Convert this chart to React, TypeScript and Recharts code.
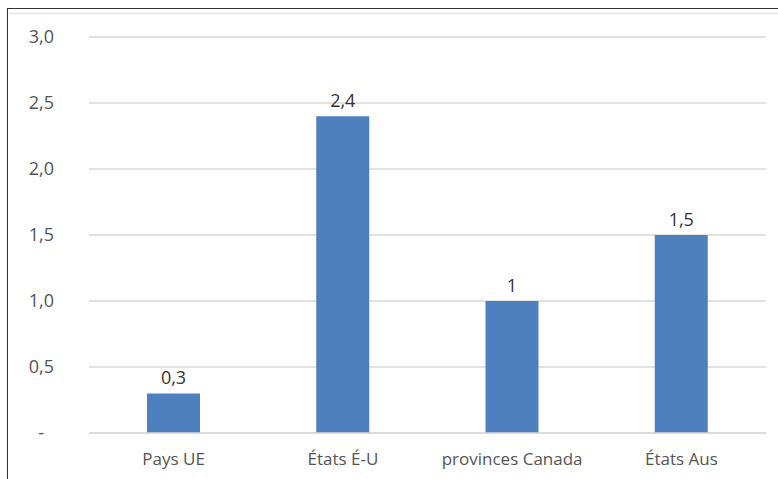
import React from 'react';
import { BarChart, Bar, XAxis, YAxis, CartesianGrid, LabelList } from 'recharts';

const categories = ['Pays UE', 'États É-U', 'provinces Canada', 'États Aus'];
const values = [0.3, 2.4, 1, 1.5];
const yTicks = [0, 0.5, 1, 1.5, 2, 2.5, 3];

const data = categories.map((name, i) => ({ name, value: values[i] }));

const fmtTick = (v: number) => (v === 0 ? '-' : v.toFixed(1).replace('.', ','));
const fmtLabel = (v: any) => String(v).replace('.', ',');

// the zero tick is shown as a dash, set a bit left like in the spreadsheet
const YTick = (props: any) => {
  const { x, y, payload } = props;
  const isZero = payload.value === 0;
  return (
    <text x={isZero ? x - 10 : x} y={y} dy="0.355em" textAnchor="end" fill="#555" fontSize={18}>
      {fmtTick(payload.value)}
    </text>
  );
};

export default function App() {
  return (
    <div style={{ position: 'absolute', left: 0, top: 0, width: 778, height: 479, background: '#fff', fontFamily: '"Open Sans", sans-serif' }}>
      <div style={{ position: 'absolute', left: 7, top: 8, right: 0, bottom: 0, borderTop: '1.5px solid #333', borderLeft: '1.5px solid #333' }} />
      <div style={{ position: 'absolute', left: 9, top: 13, right: 0, height: 1, background: '#ddd' }} />
      <BarChart
        width={778}
        height={479}
        data={data}
        margin={{ top: 37, right: 12, bottom: 16, left: 0 }}
        style={{ position: 'absolute', left: 0, top: 0 }}
      >
        <CartesianGrid vertical={false} stroke="#d9d9d9" strokeWidth={1.5} />
        <XAxis
          dataKey="name"
          height={30}
          axisLine={{ stroke: '#d9d9d9', strokeWidth: 1.5 }}
          tickLine={false}
          tick={{ fill: '#555', fontSize: 17 }}
          tickMargin={14}
        />
        <YAxis
          width={89}
          domain={[0, 3]}
          ticks={yTicks}
          axisLine={false}
          tickLine={false}
          tickSize={0}
          tickMargin={35}
          tick={<YTick />}
        />
        <Bar dataKey="value" fill="#4e7fbe" barSize={53} isAnimationActive={false}>
          <LabelList dataKey="value" position="top" offset={9} formatter={fmtLabel} fill="#333" fontSize={18} />
        </Bar>
      </BarChart>
    </div>
  );
}
